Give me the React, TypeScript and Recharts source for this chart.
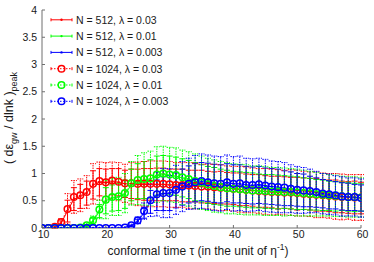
import React from 'react';
import { ComposedChart, Line, ErrorBar, XAxis, YAxis } from 'recharts';

const tau = [
  10, 11, 12, 13, 14, 15, 16, 17, 18, 19,
  20, 21, 22, 23, 24, 25, 26, 27, 28, 29,
  30, 31, 32, 33, 34, 35, 36, 37, 38, 39,
  40, 41, 42, 43, 44, 45, 46, 47, 48, 49,
  50, 51, 52, 53, 54, 55, 56, 57, 58, 59, 60,
];

// N = 512 runs
const red512 = [
  0, 0, 0.01, 0.09, 0.31, 0.53, 0.58, 0.64, 0.79, 0.84,
  0.83, 0.85, 0.84, 0.81, 0.81, 0.80, 0.80, 0.80, 0.80, 0.80,
  0.79, 0.79, 0.78, 0.77, 0.77, 0.76, 0.75, 0.74, 0.74, 0.73,
  0.72, 0.71, 0.70, 0.69, 0.68, 0.67, 0.66, 0.65, 0.65, 0.64,
  0.63, 0.63, 0.62, 0.61, 0.60, 0.59, 0.58, 0.57, 0.56, 0.56, 0.55,
];
const red512Err = [
  0, 0, 0.01, 0.04, 0.20, 0.21, 0.22, 0.22, 0.26, 0.25,
  0.25, 0.24, 0.25, 0.25, 0.27, 0.28, 0.29, 0.29, 0.30, 0.30,
  0.29, 0.29, 0.30, 0.29, 0.29, 0.30, 0.29, 0.29, 0.30, 0.29,
  0.29, 0.30, 0.29, 0.29, 0.30, 0.29, 0.29, 0.30, 0.29, 0.29,
  0.30, 0.29, 0.29, 0.30, 0.29, 0.29, 0.30, 0.29, 0.29, 0.30, 0.29,
];
const green512 = [
  0, 0, 0, 0, 0, 0, 0.01, 0.04, 0.12, 0.31,
  0.50, 0.55, 0.57, 0.62, 0.79, 0.86, 0.88, 0.90, 0.96, 0.98,
  0.97, 0.95, 0.92, 0.89, 0.85, 0.82, 0.79, 0.77, 0.75, 0.73,
  0.72, 0.71, 0.70, 0.69, 0.68, 0.67, 0.67, 0.66, 0.66, 0.65,
  0.64, 0.63, 0.62, 0.61, 0.60, 0.59, 0.58, 0.58, 0.57, 0.56, 0.56,
];
const green512Err = [
  0, 0, 0, 0, 0, 0, 0, 0.02, 0.06, 0.12,
  0.24, 0.24, 0.25, 0.26, 0.29, 0.32, 0.34, 0.35, 0.36, 0.35,
  0.35, 0.35, 0.35, 0.35, 0.35, 0.34, 0.34, 0.34, 0.33, 0.33,
  0.32, 0.32, 0.32, 0.32, 0.31, 0.31, 0.31, 0.31, 0.30, 0.30,
  0.30, 0.29, 0.29, 0.28, 0.28, 0.27, 0.27, 0.26, 0.26, 0.26, 0.25,
];
const blue512 = [
  0, 0, 0, 0, 0, 0, 0, 0, 0, 0,
  0, 0, 0, 0.01, 0.04, 0.12, 0.28, 0.48, 0.60, 0.63,
  0.64, 0.69, 0.75, 0.80, 0.83, 0.85, 0.84, 0.82, 0.81, 0.83,
  0.81, 0.81, 0.79, 0.78, 0.79, 0.77, 0.76, 0.75, 0.73, 0.72,
  0.70, 0.69, 0.67, 0.65, 0.63, 0.61, 0.60, 0.58, 0.57, 0.56, 0.55,
];
const blue512Err = [
  0, 0, 0, 0, 0, 0, 0, 0, 0, 0,
  0, 0, 0, 0, 0.01, 0.04, 0.10, 0.21, 0.28, 0.31,
  0.32, 0.32, 0.33, 0.34, 0.35, 0.35, 0.35, 0.35, 0.35, 0.35,
  0.35, 0.35, 0.34, 0.34, 0.34, 0.33, 0.33, 0.33, 0.32, 0.31,
  0.30, 0.30, 0.28, 0.27, 0.26, 0.26, 0.25, 0.25, 0.25, 0.24, 0.24,
];

// N = 1024 runs
const red1024 = [
  0, 0, 0.02, 0.11, 0.35, 0.57, 0.60, 0.66, 0.81, 0.86,
  0.84, 0.87, 0.85, 0.82, 0.82, 0.81, 0.81, 0.81, 0.81, 0.81,
  0.80, 0.79, 0.79, 0.78, 0.77, 0.76, 0.76, 0.75, 0.74, 0.73,
  0.72, 0.71, 0.70, 0.69, 0.68, 0.67, 0.66, 0.66, 0.65, 0.65,
  0.64, 0.63, 0.62, 0.61, 0.60, 0.59, 0.58, 0.57, 0.57, 0.56, 0.56,
];
const red1024Err = [
  0, 0, 0.02, 0.06, 0.28, 0.30, 0.30, 0.30, 0.37, 0.35,
  0.36, 0.34, 0.35, 0.35, 0.38, 0.40, 0.41, 0.42, 0.42, 0.42,
  0.42, 0.41, 0.41, 0.42, 0.42, 0.41, 0.41, 0.42, 0.42, 0.41,
  0.41, 0.42, 0.42, 0.41, 0.41, 0.42, 0.42, 0.41, 0.41, 0.42,
  0.42, 0.41, 0.41, 0.42, 0.41, 0.41, 0.42, 0.42, 0.41, 0.42, 0.42,
];
const green1024 = [
  0, 0, 0, 0, 0, 0, 0.01, 0.05, 0.14, 0.34,
  0.52, 0.57, 0.58, 0.64, 0.82, 0.88, 0.90, 0.91, 0.98, 1.00,
  0.98, 0.97, 0.93, 0.90, 0.86, 0.83, 0.80, 0.77, 0.75, 0.73,
  0.72, 0.71, 0.70, 0.69, 0.69, 0.68, 0.67, 0.67, 0.66, 0.66,
  0.65, 0.64, 0.63, 0.62, 0.61, 0.60, 0.59, 0.58, 0.57, 0.57, 0.56,
];
const green1024Err = [
  0, 0, 0, 0, 0, 0, 0, 0.03, 0.08, 0.17,
  0.35, 0.34, 0.35, 0.36, 0.40, 0.45, 0.48, 0.50, 0.51, 0.50,
  0.50, 0.50, 0.50, 0.50, 0.50, 0.49, 0.48, 0.48, 0.47, 0.47,
  0.46, 0.46, 0.46, 0.45, 0.45, 0.45, 0.44, 0.44, 0.44, 0.43,
  0.43, 0.42, 0.41, 0.40, 0.39, 0.38, 0.38, 0.37, 0.37, 0.37, 0.36,
];
const blue1024 = [
  0, 0, 0, 0, 0, 0, 0, 0, 0, 0,
  0, 0, 0, 0.01, 0.05, 0.14, 0.31, 0.51, 0.62, 0.64,
  0.64, 0.70, 0.76, 0.81, 0.84, 0.86, 0.84, 0.82, 0.81, 0.84,
  0.81, 0.82, 0.79, 0.79, 0.80, 0.78, 0.76, 0.75, 0.74, 0.72,
  0.70, 0.69, 0.68, 0.66, 0.63, 0.62, 0.60, 0.58, 0.57, 0.57, 0.55,
];
const blue1024Err = [
  0, 0, 0, 0, 0, 0, 0, 0, 0, 0,
  0, 0, 0, 0, 0.02, 0.06, 0.15, 0.30, 0.40, 0.45,
  0.45, 0.45, 0.46, 0.47, 0.49, 0.50, 0.50, 0.50, 0.50, 0.50,
  0.50, 0.50, 0.49, 0.48, 0.48, 0.48, 0.47, 0.47, 0.46, 0.44,
  0.43, 0.42, 0.40, 0.38, 0.37, 0.37, 0.36, 0.36, 0.35, 0.35, 0.35,
];

const seriesLabels = [
  'N = 512, λ = 0.03',
  'N = 512, λ = 0.01',
  'N = 512, λ = 0.003',
  'N = 1024, λ = 0.03',
  'N = 1024, λ = 0.01',
  'N = 1024, λ = 0.003',
];
const xTicks = [10, 20, 30, 40, 50, 60];
const yTicks = [0, 0.5, 1, 1.5, 2, 2.5, 3, 3.5, 4];

const data = tau.map((t, i) => ({
  tau: t,
  r512: red512[i], r512e: red512Err[i],
  g512: green512[i], g512e: green512Err[i],
  b512: blue512[i], b512e: blue512Err[i],
  r1024: red1024[i], r1024e: red1024Err[i],
  g1024: green1024[i], g1024e: green1024Err[i],
  b1024: blue1024[i], b1024e: blue1024Err[i],
}));

// drawing order follows legend order, so the N=1024 circles sit on top
const series = [
  { key: 'r512', color: '#ff0000', big: false },
  { key: 'g512', color: '#00ff00', big: false },
  { key: 'b512', color: '#0000ff', big: false },
  { key: 'r1024', color: '#ff0000', big: true },
  { key: 'g1024', color: '#00ff00', big: true },
  { key: 'b1024', color: '#0000ff', big: true },
];

const FONT = '"Liberation Sans", Arial, Helvetica, sans-serif';
const AXIS = '#6f6f6f';
const TEXT = '#1a1a1a';
const TICK_LEN = 3;

const BottomTick = (props: any) => {
  const { x, y, payload } = props;
  return (
    <g>
      <line x1={x} y1={y} x2={x} y2={y - TICK_LEN} stroke={AXIS} />
      <text x={x + 1.5} y={y + 9.8} textAnchor="middle" fontSize={10.5} fontFamily={FONT} fill={TEXT}>
        {payload.value}
      </text>
    </g>
  );
};

const TopTick = (props: any) => {
  const { x, y } = props;
  return <line x1={x} y1={y} x2={x} y2={y + TICK_LEN} stroke={AXIS} />;
};

const LeftTick = (props: any) => {
  const { x, y, payload } = props;
  return (
    <g>
      <line x1={x} y1={y} x2={x + TICK_LEN} y2={y} stroke={AXIS} />
      <text x={x - 5} y={y + 3.7} textAnchor="end" fontSize={10.5} fontFamily={FONT} fill={TEXT}>
        {payload.value}
      </text>
    </g>
  );
};

const RightTick = (props: any) => {
  const { x, y } = props;
  return <line x1={x} y1={y} x2={x - TICK_LEN} y2={y} stroke={AXIS} />;
};

const makeDot = (color: string, big: boolean) => (p: any) => {
  const { cx, cy, index } = p;
  if (cx == null || cy == null) return <g key={index} />;
  return big ? (
    <circle key={index} cx={cx} cy={cy} r={3.3} fill="none" stroke={color} strokeWidth={1.5} />
  ) : (
    <circle key={index} cx={cx} cy={cy} r={1.2} fill={color} stroke="none" />
  );
};

const LegendSymbol = ({ y, color, big }: { y: number; color: string; big: boolean }) => {
  const dash = big ? '1.5 1.5' : undefined;
  return (
    <g>
      <line x1={51} y1={y} x2={72} y2={y} stroke={color} strokeDasharray={dash} />
      <line x1={51} y1={y - 1.5} x2={51} y2={y + 1.5} stroke={color} />
      <line x1={72} y1={y - 1.5} x2={72} y2={y + 1.5} stroke={color} />
      {big ? (
        <circle cx={61.5} cy={y} r={3.3} fill="none" stroke={color} strokeWidth={1.5} />
      ) : (
        <circle cx={61.5} cy={y} r={1.2} fill={color} />
      )}
    </g>
  );
};

export default function App() {
  return (
    <div style={{ position: 'absolute', left: 0, top: 0, width: 374, height: 262, background: '#fff' }}>
      <ComposedChart width={374} height={262} data={data} margin={{ top: 10, right: 13, bottom: 0, left: 0 }}>
        <XAxis
          dataKey="tau"
          type="number"
          domain={[10, 60]}
          ticks={xTicks}
          height={34}
          stroke={AXIS}
          tickLine={false}
          tickSize={0}
          tickMargin={0}
          tick={<BottomTick />}
          allowDataOverflow
          interval={0}
        />
        <XAxis
          xAxisId="top"
          orientation="top"
          type="number"
          domain={[10, 60]}
          ticks={xTicks}
          height={0}
          stroke={AXIS}
          tickLine={false}
          tickSize={0}
          tickMargin={0}
          tick={<TopTick />}
          allowDataOverflow
          interval={0}
        />
        <YAxis
          type="number"
          domain={[0, 4]}
          ticks={yTicks}
          width={42}
          stroke={AXIS}
          tickLine={false}
          tickSize={0}
          tickMargin={0}
          tick={<LeftTick />}
          allowDataOverflow
          interval={0}
        />
        <YAxis
          yAxisId="right"
          orientation="right"
          type="number"
          domain={[0, 4]}
          ticks={yTicks}
          width={0}
          stroke={AXIS}
          tickLine={false}
          tickSize={0}
          tickMargin={0}
          tick={<RightTick />}
          allowDataOverflow
          interval={0}
        />
        {series.map((s) => (
          <Line
            key={s.key}
            dataKey={s.key}
            type="linear"
            stroke={s.color}
            strokeWidth={1}
            strokeDasharray={s.big ? '1.5 1.5' : undefined}
            dot={makeDot(s.color, s.big)}
            activeDot={false}
            isAnimationActive={false}
          >
            <ErrorBar
              dataKey={s.key + 'e'}
              direction="y"
              width={3}
              stroke={s.color}
              strokeWidth={1}
              strokeDasharray={s.big ? '1.5 1' : undefined}
              isAnimationActive={false}
            />
          </Line>
        ))}
      </ComposedChart>
      <svg width={374} height={262} style={{ position: 'absolute', left: 0, top: 0, pointerEvents: 'none' }}>
        {seriesLabels.map((label, i) => {
          const y = 19.8 + i * 16.3;
          return (
            <g key={label}>
              <LegendSymbol y={y} color={series[i].color} big={series[i].big} />
              <text x={76} y={y + 3.8} fontSize={10.5} fontFamily={FONT} fill={TEXT}>
                {label}
              </text>
            </g>
          );
        })}
        <text x={198} y={255} textAnchor="middle" fontSize={12} fontFamily={FONT} fill={TEXT}>
          conformal time τ (in the unit of η
          <tspan dy={-5} fontSize={8.5}>-1</tspan>
          <tspan dy={5}>)</tspan>
        </text>
        <text transform="translate(13,118) rotate(-90)" textAnchor="middle" fontSize={12.5} fontFamily={FONT} fill={TEXT}>
          ( dε
          <tspan dy={3.5} fontSize={9}>gw</tspan>
          <tspan dy={-3.5}> / dlnk )</tspan>
          <tspan dy={3.5} fontSize={9}>peak</tspan>
        </text>
      </svg>
    </div>
  );
}
